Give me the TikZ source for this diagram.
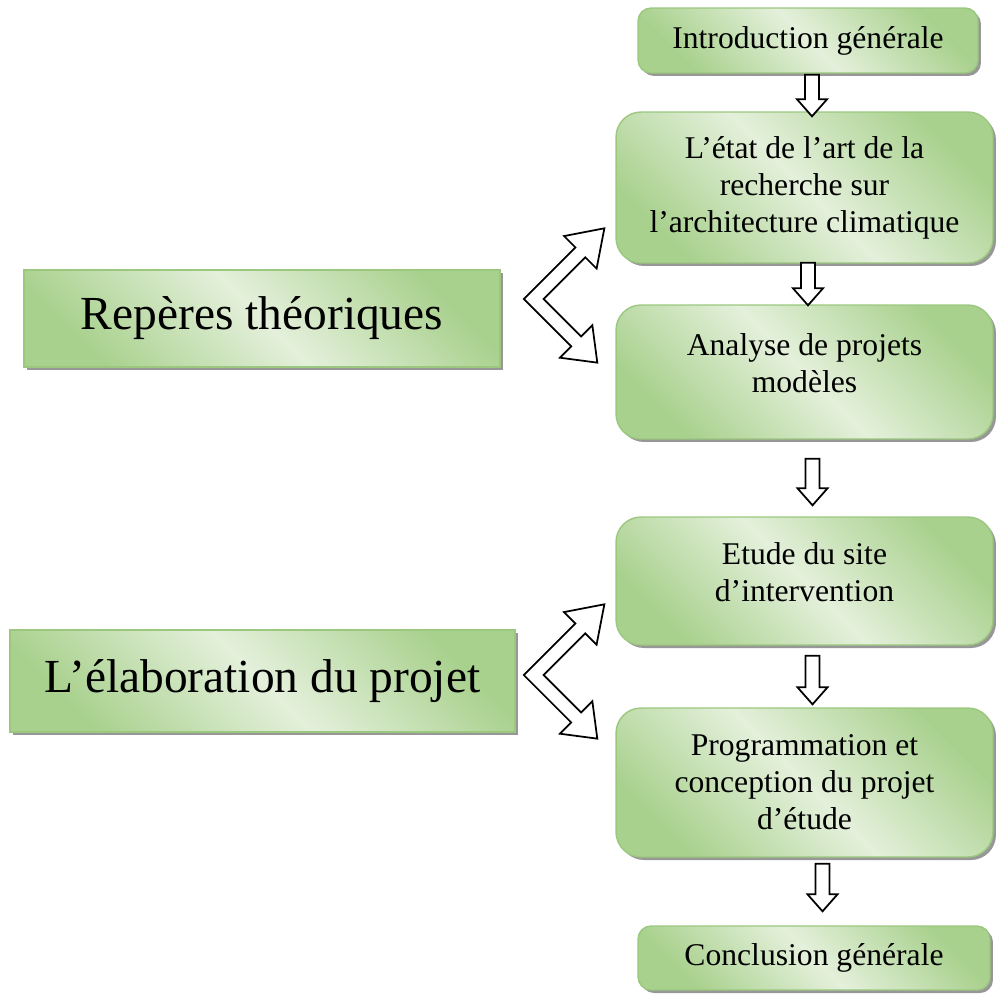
\documentclass[tikz,border=0pt]{standalone}
\usepackage{fontspec}
\setmainfont{Liberation Serif}
\usepackage{tikz}
\usetikzlibrary{calc,shadows}
\usepackage{xcolor}
\definecolor{leaf}{HTML}{A9D18E}
\definecolor{mint}{HTML}{E4F0DB}
\definecolor{rim}{HTML}{9BC77E}

% hollow block arrow, from #1 (top of shaft) down to #2 (tip)
\newcommand{\hollowdown}[2]{%
  \draw[hollowarrow] ($(#1)+(-7,0)$) -- ($(#2)+(-7,-17)$) -- ($(#2)+(-15,-17)$) -- (#2)
    -- ($(#2)+(15,-17)$) -- ($(#2)+(7,-17)$) -- ($(#1)+(7,0)$) -- cycle;}

% bent double arrow with its corner at #1
\newcommand{\twinarrow}[1]{%
  \draw[hollowarrow] ($(#1)+(-9.9,0)$)
    -- ($(#1)+(-45:66)+(-135:7)$) -- ($(#1)+(-45:66)+(-135:23)$) -- ($(#1)+(-45:100)$)
    -- ($(#1)+(-45:66)+(45:23)$) -- ($(#1)+(-45:66)+(45:7)$)
    -- ($(#1)+(9.9,0)$)
    -- ($(#1)+(45:60)+(-45:7)$) -- ($(#1)+(45:60)+(-45:23)$) -- ($(#1)+(45:90)$)
    -- ($(#1)+(45:60)+(135:23)$) -- ($(#1)+(45:60)+(135:7)$) -- cycle;}

\begin{document}
\begin{tikzpicture}[x=0.02cm, y=-0.02cm,
  stagebox/.style={draw=rim, line width=0.8pt, top color=leaf, bottom color=leaf, middle color=mint,
    shading angle=-45, drop shadow={shadow xshift=0.06cm, shadow yshift=-0.06cm, fill=black!45, opacity=0.9},
    align=center, font=\fontsize{18}{21}\selectfont, minimum width=7.54cm, rounded corners=0.5cm},
  endbox/.style={stagebox, rounded corners=0.26cm},
  themebox/.style={stagebox, sharp corners, font=\fontsize{27}{32}\selectfont},
  hollowarrow/.style={draw=black, fill=white, line width=1pt}
]
  \useasboundingbox (0,0) rectangle (999,994);

  % right column
  \node[endbox, minimum width=6.8cm, minimum height=1.3cm] (intro) at (808,40.5) {Introduction générale};
  \node[stagebox, minimum height=3.02cm] (etat) at (804.5,187.5) {L’état de l’art de la\\recherche sur\\l’architecture climatique};
  \node[stagebox, minimum height=2.68cm, text depth=10pt] (analyse) at (804.5,372) {Analyse de projets\\modèles};
  \node[stagebox, minimum height=2.56cm, text depth=10pt] (etude) at (804.5,581) {Etude du site\\d’intervention};
  \node[stagebox, minimum height=2.98cm] (prog) at (804.5,782.5) {Programmation et\\conception du projet\\d’étude};
  \node[endbox, minimum width=7.04cm, minimum height=1.28cm] (concl) at (814,958) {Conclusion générale};

  % left column
  \node[themebox, minimum width=9.52cm, minimum height=1.94cm] (reperes) at (262,318.5) {Repères théoriques};
  \node[themebox, minimum width=10.1cm, minimum height=2.04cm] (elab) at (262.5,681) {L’élaboration du projet};

  % down arrows
  \coordinate (a1) at ($(intro.south)+(4,1)$);
  \coordinate (b1) at ($(a1 |- etat.north)+(0,5)$);
  \coordinate (a2) at ($(etat.south)+(3.5,-1)$);
  \coordinate (b2) at ($(a2 |- analyse.north)+(0,1)$);
  \coordinate (a3) at ($(analyse.south)+(8,19)$);
  \coordinate (b3) at ($(a3 |- etude.north)+(0,-11)$);
  \coordinate (a4) at ($(etude.south)+(8,10)$);
  \coordinate (b4) at ($(a4 |- prog.north)+(0,-3)$);
  \coordinate (a5) at ($(prog.south)+(18,6)$);
  \coordinate (b5) at ($(a5 |- concl.north)+(0,-14)$);
  \hollowdown{a1}{b1}
  \hollowdown{a2}{b2}
  \hollowdown{a3}{b3}
  \hollowdown{a4}{b4}
  \hollowdown{a5}{b5}

  % bent arrows to the right column
  \coordinate (v1) at ($(reperes.east)+(33,-19.5)$);
  \coordinate (v2) at ($(elab.east)+(18,-6)$);
  \twinarrow{v1}
  \twinarrow{v2}
\end{tikzpicture}
\end{document}
